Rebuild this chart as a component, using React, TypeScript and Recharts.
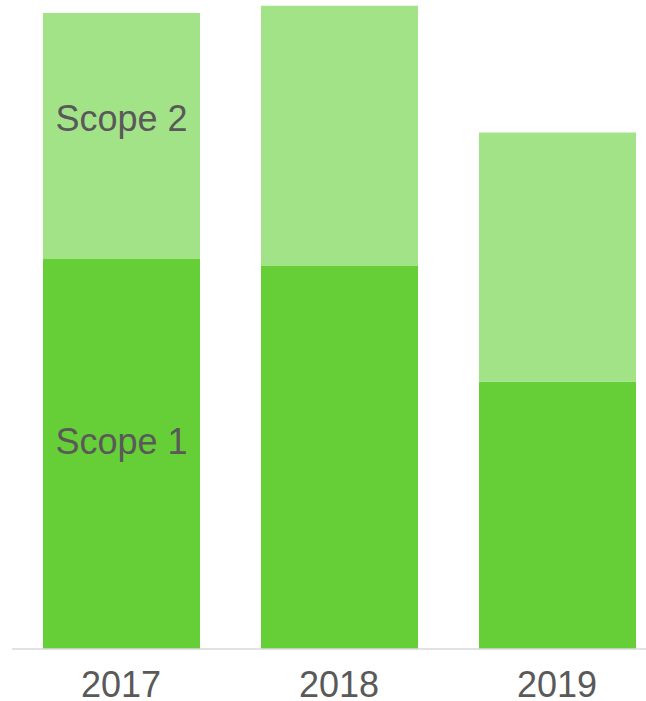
import { Bar, BarChart, LabelList, XAxis, YAxis } from "recharts";

const years = ["2017", "2018", "2019"];
const scope1 = [60.1, 59.0, 41.2];
const scope2 = [37.9, 40.1, 38.4];

const data = years.map((year, i) => ({ year, scope1: scope1[i], scope2: scope2[i] }));

const FONT = '"Liberation Sans", Arial, sans-serif';

// only the first column carries the series names
function segmentLabel(text: string, shift: number) {
  return (props: any) => {
    const { x, y, width, height, index } = props;
    if (index !== 0) return null;
    return (
      <text
        x={Number(x) + Number(width) / 2}
        y={Number(y) + Number(height) / 2 + shift}
        textAnchor="middle"
        fontSize={36}
        fontFamily={FONT}
        fill="#595959"
      >
        {text}
      </text>
    );
  };
}

export default function App() {
  return (
    <div style={{ position: "absolute", left: 0, top: 0, width: 646, height: 701, overflow: "hidden", background: "#fff" }}>
      <BarChart
        width={670}
        height={701}
        data={data}
        margin={{ top: 0, right: 4, bottom: 0, left: 12 }}
        barSize={157}
      >
        <XAxis
          dataKey="year"
          height={52}
          tickLine={false}
          axisLine={{ stroke: "#d9d9d9", strokeWidth: 1.5 }}
          tickMargin={16}
          tick={{ fontSize: 36, fill: "#595959", fontFamily: FONT }}
        />
        <YAxis hide domain={[0, 100]} />
        <Bar dataKey="scope1" stackId="s" fill="#66cf38" isAnimationActive={false}>
          <LabelList dataKey="scope1" content={segmentLabel("Scope 1", 0)} />
        </Bar>
        <Bar dataKey="scope2" stackId="s" fill="#a3e388" isAnimationActive={false}>
          <LabelList dataKey="scope2" content={segmentLabel("Scope 2", -5)} />
        </Bar>
      </BarChart>
    </div>
  );
}
